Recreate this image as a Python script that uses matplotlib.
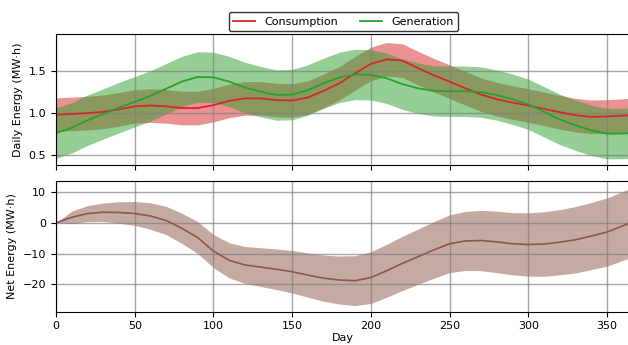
import matplotlib
matplotlib.use("Agg")
import matplotlib.pyplot as plt
import numpy as np

days = [0, 10, 20, 30, 40, 50, 60, 70, 80, 90, 100, 110, 120, 130, 140, 150, 160, 170,
        180, 190, 200, 210, 220, 230, 240, 250, 260, 270, 280, 290, 300, 310, 320, 330,
        340, 350, 360, 365]
consumption = [0.976, 0.985, 0.995, 1.01, 1.04, 1.075, 1.085, 1.075, 1.055, 1.055, 1.09,
               1.14, 1.17, 1.17, 1.15, 1.145, 1.18, 1.26, 1.35, 1.47, 1.58, 1.635, 1.62,
               1.53, 1.445, 1.37, 1.29, 1.215, 1.16, 1.12, 1.085, 1.045, 1.005, 0.97,
               0.95, 0.955, 0.965, 0.97]
consumption_err = [0.2] * len(days)
generation = [0.757, 0.82, 0.91, 0.985, 1.06, 1.13, 1.20, 1.286, 1.37, 1.425, 1.42, 1.37,
              1.30, 1.25, 1.21, 1.215, 1.27, 1.35, 1.42, 1.455, 1.45, 1.41, 1.34, 1.29,
              1.26, 1.255, 1.255, 1.245, 1.21, 1.16, 1.10, 1.01, 0.92, 0.85, 0.79, 0.75,
              0.752, 0.757]
generation_err = [0.3] * len(days)
net = [0.0, 1.8, 3.0, 3.45, 3.35, 3.05, 2.2, 0.75, -1.8, -4.8, -9.2, -12.2, -13.7, -14.4,
       -15.1, -15.9, -17.0, -18.0, -18.6, -18.8, -17.8, -15.6, -13.2, -11.0, -8.8, -6.8,
       -5.9, -5.75, -6.2, -6.8, -7.05, -6.9, -6.3, -5.5, -4.3, -3.0, -1.0, 0.0]
net_err = [0.0, 2.0, 2.6, 3.0, 3.5, 3.9, 4.3, 4.6, 4.9, 5.2, 5.4, 5.7, 6.0, 6.3, 6.6, 6.9,
           7.2, 7.5, 7.8, 8.1, 8.4, 8.6, 8.8, 9.0, 9.2, 9.4, 9.6, 9.8, 10.0, 10.1, 10.3,
           10.5, 10.6, 10.8, 10.9, 11.1, 11.2, 11.3]

d = np.array(days)
c = np.array(consumption); ce = np.array(consumption_err)
g = np.array(generation); ge = np.array(generation_err)
n = np.array(net); ne = np.array(net_err)

plt.rcParams['font.size'] = 8
fig = plt.figure(figsize=(6.28, 3.45), dpi=100)
ax1 = fig.add_axes([0.0892, 0.5217, 0.915, 0.3789])
ax2 = fig.add_axes([0.0892, 0.0965, 0.915, 0.378], sharex=ax1)

red = '#d62728'; green = '#2ca02c'; brown = '#8c564b'

ax1.fill_between(d, c - ce, c + ce, color=red, alpha=0.5, lw=0)
ax1.fill_between(d, g - ge, g + ge, color=green, alpha=0.5, lw=0)
ax1.plot(d, c, color=red, lw=1.3, label='Consumption')
ax1.plot(d, g, color=green, lw=1.3, label='Generation')
ax1.set_ylim(0.377, 1.933)
ax1.set_yticks([0.5, 1.0, 1.5])
ax1.set_ylabel('Daily Energy (MW\u00b7h)')
ax1.grid(True, color='gray', lw=1.0, alpha=0.7)
ax1.tick_params(labelbottom=False)
leg = ax1.legend(loc='lower center', bbox_to_anchor=(0.5, 1.0), ncol=2,
                 frameon=True, borderaxespad=0.3, columnspacing=2.0)
leg.get_frame().set_edgecolor('black')

ax2.fill_between(d, n - ne, n + ne, color=brown, alpha=0.5, lw=0)
ax2.plot(d, n, color=brown, lw=1.2)
ax2.set_ylim(-28.9, 13.5)
ax2.set_yticks([-20, -10, 0, 10])
ax2.set_ylabel('Net Energy (MW\u00b7h)')
ax2.set_xlabel('Day', labelpad=1)
ax2.grid(True, color='gray', lw=1.0, alpha=0.7)
ax2.set_xlim(0, 365)
ax2.set_xticks([0, 50, 100, 150, 200, 250, 300, 350])

fig.savefig('out.png', dpi=100)
